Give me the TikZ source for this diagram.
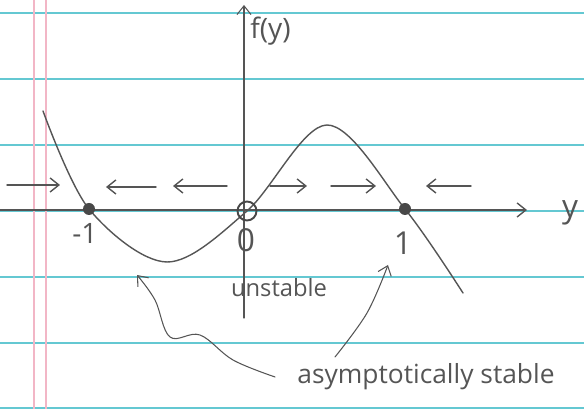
\documentclass[tikz,border=0pt]{standalone}
\usepackage{fontspec}
\setmainfont{Open Sans}
\usetikzlibrary{arrows.meta}

\definecolor{rule}{HTML}{64C8D2}
\definecolor{margin}{HTML}{F2B6C6}
\definecolor{pencil}{HTML}{555555}

\begin{document}
\begin{tikzpicture}[line cap=round,line join=round,
  >={Straight Barb[length=5pt,width=8pt]},
  ruled/.style={rule,line width=0.9pt},
  flow/.style={pencil,line width=0.8pt,->},
  pointer/.style={pencil,line width=0.6pt,->},
  fixed/.style={circle,fill=pencil!85!black,inner sep=0pt,minimum size=0.24cm},
  open/.style={circle,draw=pencil!85!black,line width=1.1pt,inner sep=0pt,minimum size=0.38cm},
  hand/.style={text=pencil,inner sep=0pt}]
  \useasboundingbox (0,0) rectangle (11.68,-8.18);
  % ruled paper
  \foreach \y in {-0.26,-1.58,-2.90,-4.22,-5.54,-6.86,-8.16}
    \draw[ruled] (0,\y) -- (11.68,\y);
  \draw[margin,line width=0.7pt] (0.68,0) -- (0.68,-8.18);
  \draw[margin,line width=0.7pt] (0.92,0) -- (0.92,-8.18);
  % axes
  \draw[pencil,line width=0.8pt,->] (0,-4.20) -- (10.54,-4.20);
  \draw[pencil,line width=0.6pt,->] (4.88,-6.36) -- (4.88,-0.10);
  \node[hand,anchor=west,font=\fontsize{16}{16}\selectfont] (fy) at (5.00,-0.62) {f(y)};
  \node[hand,font=\fontsize{18}{18}\selectfont] (ylab) at (11.40,-4.26) {y};
  % f(y)
  \draw[pencil,line width=0.8pt] plot[smooth,tension=0.55] coordinates
    {(0.86,-2.22) (1.78,-4.18) (3.34,-5.24) (4.94,-4.22) (6.54,-2.50) (8.10,-4.18) (9.26,-5.86)};
  % equilibria
  \node[fixed] (pm) at (1.78,-4.18) {};
  \node[open] (pz) at (4.94,-4.22) {};
  \node[fixed] (pp) at (8.10,-4.18) {};
  \node[hand,font=\fontsize{16}{16}\selectfont] (lm) at (1.70,-4.66) {-1};
  \node[hand,font=\fontsize{18}{18}\selectfont] (lz) at (4.92,-4.80) {0};
  \node[hand,font=\fontsize{18}{18}\selectfont] (lp) at (8.06,-4.86) {1};
  % direction of flow
  \draw[flow] (0.14,-3.70) -- (1.20,-3.70);
  \draw[flow] (3.12,-3.74) -- (2.12,-3.74);
  \draw[flow] (4.54,-3.72) -- (3.46,-3.72);
  \draw[flow] (5.40,-3.72) -- (6.14,-3.72);
  \draw[flow] (6.62,-3.72) -- (7.52,-3.72);
  \draw[flow] (9.42,-3.72) -- (8.52,-3.72);
  % labels
  \node[hand,font=\fontsize{13.5}{13.5}\selectfont] (unst) at (5.58,-5.76) {unstable};
  \node[hand,font=\fontsize{15}{15}\selectfont] (asym) at (8.52,-7.54) {asymptotically stable};
  \coordinate (tailL) at ([xshift=-0.44cm]asym.west);
  \coordinate (tailR) at (6.70,-7.14);
  \coordinate (tipL) at (2.74,-5.50);
  \coordinate (tipR) at (7.76,-5.30);
  \draw[pointer] plot[smooth,tension=0.6] coordinates
    {(tailL) (4.66,-7.20) (4.00,-6.70) (3.40,-6.74) (3.10,-6.00) (tipL)};
  \draw[pointer] plot[smooth,tension=0.6] coordinates
    {(tailR) (7.34,-6.26) (tipR)};
\end{tikzpicture}
\end{document}
